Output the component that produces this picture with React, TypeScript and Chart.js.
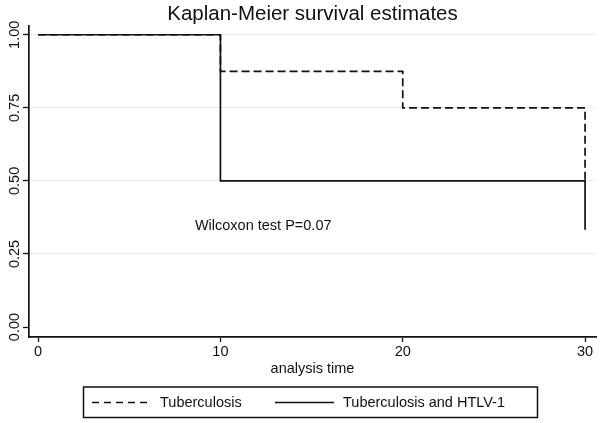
import React, { useEffect, useRef } from "react";
import { Chart, registerables } from "chart.js";

Chart.register(...registerables);

const titleText = "Kaplan-Meier survival estimates";
const xAxisTitle = "analysis time";
const annotationText = "Wilcoxon test P=0.07";
const annotationX = 8.6;
const annotationY = 0.345;

const xTicks = [0, 10, 20, 30];
const yTicks = [0, 0.25, 0.5, 0.75, 1.0];
const yTickLabels = ["0.00", "0.25", "0.50", "0.75", "1.00"];

const seriesNames = ["Tuberculosis", "Tuberculosis and HTLV-1"];
const tbTimes = [0, 10, 20, 30, 30];
const tbSurvival = [1.0, 0.875, 0.75, 0.75, 0.5];
const htlvTimes = [0, 10, 30, 30];
const htlvSurvival = [1.0, 0.5, 0.5, 0.333];

const FONT = "'Liberation Sans', Arial, Helvetica, sans-serif";
const INK = "#111111";
const FS = 14.5;

export default function App() {
  const canvasRef = useRef<HTMLCanvasElement | null>(null);

  useEffect(() => {
    document.body.style.margin = "0";
    const canvas = canvasRef.current;
    if (!canvas) return;

    const overlay = {
      id: "kmOverlay",
      afterDraw(chart: any) {
        const ctx = chart.ctx;
        const xs = chart.scales.x;
        const ys = chart.scales.y;
        const area = chart.chartArea;
        ctx.save();
        ctx.fillStyle = INK;
        // title
        ctx.font = `20.5px ${FONT}`;
        ctx.textAlign = "center";
        ctx.textBaseline = "middle";
        ctx.fillText(titleText, (area.left + area.right) / 2, 14);
        // x axis title
        ctx.font = `${FS}px ${FONT}`;
        ctx.fillText(xAxisTitle, (area.left + area.right) / 2, 369);
        // annotation
        ctx.textAlign = "left";
        ctx.fillText(annotationText, xs.getPixelForValue(annotationX), ys.getPixelForValue(annotationY));
        // legend box
        ctx.strokeStyle = INK;
        ctx.lineWidth = 1.5;
        ctx.strokeRect(83.5, 387, 454, 30.5);
        const ly = 402.5;
        ctx.setLineDash([7, 5]);
        ctx.beginPath();
        ctx.moveTo(92, ly);
        ctx.lineTo(152, ly);
        ctx.stroke();
        ctx.setLineDash([]);
        ctx.beginPath();
        ctx.moveTo(275, ly);
        ctx.lineTo(334, ly);
        ctx.stroke();
        ctx.font = `${FS}px ${FONT}`;
        ctx.textBaseline = "middle";
        ctx.fillText(seriesNames[0], 160, ly);
        ctx.fillText(seriesNames[1], 343, ly);
        ctx.restore();
      },
    };

    const chart = new Chart(canvas, {
      type: "line",
      data: {
        datasets: [
          {
            label: seriesNames[1],
            data: htlvTimes.map((t, i) => ({ x: t, y: htlvSurvival[i] })),
            borderColor: INK,
            borderWidth: 1.7,
            stepped: "before",
            pointRadius: 0,
            fill: false,
            order: 0,
          },
          {
            label: seriesNames[0],
            data: tbTimes.map((t, i) => ({ x: t, y: tbSurvival[i] })),
            borderColor: INK,
            borderWidth: 1.7,
            borderDash: [8, 4],
            stepped: "before",
            pointRadius: 0,
            fill: false,
            order: 1,
          },
        ],
      },
      options: {
        animation: false,
        responsive: false,
        maintainAspectRatio: false,
        layout: { padding: { top: 26, right: 4, left: 0, bottom: 0 } },
        plugins: {
          legend: { display: false },
          title: { display: false },
          tooltip: { enabled: false },
        },
        scales: {
          x: {
            type: "linear",
            min: -0.5,
            max: 30.6,
            afterBuildTicks: (s: any) => {
              s.ticks = xTicks.map((v) => ({ value: v }));
            },
            afterFit: (s: any) => {
              s.height = 86;
            },
            grid: {
              drawOnChartArea: false,
              drawTicks: true,
              tickLength: 5,
              tickColor: INK,
              tickWidth: 1.3,
            },
            border: { display: true, color: INK, width: 1.7 },
            ticks: {
              color: INK,
              font: { family: FONT, size: FS },
              padding: 1,
              maxRotation: 0,
              minRotation: 0,
              callback: (v: any) => String(v),
            },
          },
          y: {
            type: "linear",
            min: -0.034,
            max: 1.03,
            afterBuildTicks: (s: any) => {
              s.ticks = yTicks.map((v) => ({ value: v }));
            },
            afterFit: (s: any) => {
              s.width = 29;
            },
            grid: {
              drawOnChartArea: true,
              color: (c: any) => (c.tick && c.tick.value === 0 ? "rgba(0,0,0,0)" : "#e9f0f0"),
              lineWidth: 1,
              drawTicks: true,
              tickLength: 6,
              tickColor: INK,
              tickWidth: 1.3,
            },
            border: { display: true, color: INK, width: 1.7 },
            ticks: {
              color: INK,
              font: { family: FONT, size: FS },
              padding: -6,
              minRotation: 90,
              maxRotation: 90,
              crossAlign: "center",
              callback: (v: any) => {
                const idx = yTicks.indexOf(Number(v));
                return idx >= 0 ? yTickLabels[idx] : "";
              },
            },
          },
        },
      },
      plugins: [overlay],
    } as any);

    return () => {
      chart.destroy();
    };
  }, []);

  return (
    <div style={{ position: "absolute", left: 0, top: 0, width: 600, height: 423, background: "#fff" }}>
      <canvas ref={canvasRef} width={600} height={423} style={{ width: 600, height: 423 }} />
    </div>
  );
}
